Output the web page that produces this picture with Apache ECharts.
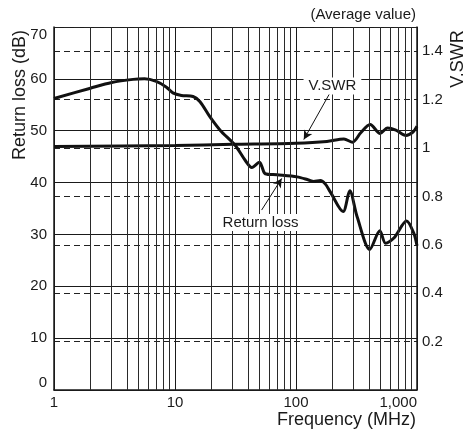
<!DOCTYPE html>
<html><head><meta charset="utf-8">
<script src="https://cdn.jsdelivr.net/npm/echarts@6/dist/echarts.min.js"></script>
<style>html,body{margin:0;padding:0;background:#fff}#c{width:466px;height:434px}</style>
</head><body><div id="c"></div>
<script>
// Return loss (dB) vs frequency (MHz)
const rlFreq = [1, 2, 3, 4.5, 5.6, 7, 8.5, 9.6, 11.3, 14.1, 16.1, 19.4, 23.6, 31.4, 38, 43.2, 49.9, 52.2, 55.7, 69.6, 102, 127, 140, 159, 175, 192, 245, 278, 320, 407, 493, 550, 644, 820, 942, 1000];
const rlDb   = [56.2, 58.2, 59.3, 59.9, 60.0, 59.5, 58.4, 57.3, 56.8, 56.6, 55.6, 52.7, 50.1, 47.2, 44.3, 42.9, 43.9, 43.1, 41.7, 41.5, 41.1, 40.5, 40.2, 40.4, 39.7, 38.2, 34.4, 38.4, 33.4, 27.1, 30.7, 28.3, 29.3, 32.6, 30.2, 27.8];
// V.SWR vs frequency (MHz)
const vswrFreq = [1, 10, 30, 100, 180, 249, 293, 343, 410, 496, 571, 669, 811, 921, 1000];
const vswrVal  = [1.006, 1.010, 1.015, 1.020, 1.027, 1.037, 1.024, 1.063, 1.097, 1.060, 1.083, 1.074, 1.052, 1.065, 1.090];
// minor vertical grid lines (log decades)
const minorFreqs = [2,3,4,5,6,7,8,9,20,30,40,50,60,70,80,90,200,300,400,500,600,700,800,900];
// axis ranges
const xRange = [1, 1000];
const rlRange = [0, 70], rlStep = 10;
const vswrRange = [0, 1.5], vswrStep = 0.2;
// annotations: label position, arrow start and arrow tip in (MHz, dB)
const annVswr = {text: 'V.SWR', at: [200, 58.6], from: [191, 57.3], to: [116, 48.3]};
const annRl   = {text: 'Return loss', at: [50.9, 32.3], from: [52, 34.7], to: [76.2, 40.8]};

const FONT = '"Liberation Sans", Arial, Helvetica, sans-serif';
const INK = '#1a1a1a';

const chart = echarts.init(document.getElementById('c'), null, {renderer: 'canvas'});
chart.setOption({
  animation: false,
  backgroundColor: '#fff',
  grid: {left: 54, right: 49, top: 27, bottom: 44, containLabel: false},
  xAxis: {
    type: 'log', logBase: 10, min: xRange[0], max: xRange[1],
    axisLine: {show: true, lineStyle: {color: INK, width: 1.5}},
    axisTick: {show: false},
    axisLabel: {fontFamily: FONT, fontSize: 15, color: INK, margin: 5, alignMaxLabel: 'right',
      formatter: v => v >= 1000 ? v.toLocaleString('en-US') : String(v)},
    splitLine: {show: true, lineStyle: {color: INK, width: 1}}
  },
  yAxis: [{
    type: 'value', position: 'left', min: rlRange[0], max: rlRange[1], interval: rlStep,
    axisLine: {show: true, lineStyle: {color: INK, width: 1.5}},
    axisTick: {show: false},
    axisLabel: {fontFamily: FONT, fontSize: 15, color: INK, margin: 7,
      verticalAlignMaxLabel: 'top', verticalAlignMinLabel: 'bottom'},
    splitLine: {show: true, lineStyle: {color: INK, width: 1}}
  }, {
    type: 'value', position: 'right', min: vswrRange[0], max: vswrRange[1], interval: vswrStep,
    axisLine: {show: true, lineStyle: {color: INK, width: 1.5}},
    axisTick: {show: false},
    axisLabel: {fontFamily: FONT, fontSize: 15, color: INK, margin: 5,
      formatter: v => (v < 0.05 || v > 1.45) ? '' : (Math.abs(v - 1) < 1e-6 ? '1' : v.toFixed(1))},
    splitLine: {show: true, lineStyle: {color: '#222', width: 1, type: [6, 4]}}
  }],
  series: [{
    name: 'minor', type: 'line', data: [], z: 1, silent: true,
    markLine: {
      silent: true, symbol: ['none', 'none'], animation: false,
      label: {show: false},
      lineStyle: {color: '#2a2a2a', width: 1, type: 'solid'},
      data: minorFreqs.map(f => ({xAxis: f}))
    }
  }, {
    name: 'Return loss', type: 'line', yAxisIndex: 0, z: 3,
    data: rlFreq.map((f, i) => [f, rlDb[i]]),
    smooth: 0.3, showSymbol: false, symbol: 'none',
    lineStyle: {color: '#111', width: 3}
  }, {
    name: 'V.SWR', type: 'line', yAxisIndex: 1, z: 3,
    data: vswrFreq.map((f, i) => [f, vswrVal[i]]),
    smooth: 0.3, showSymbol: false, symbol: 'none',
    lineStyle: {color: '#111', width: 3}
  }, {
    name: 'annotations', type: 'line', yAxisIndex: 0, z: 5, data: [],
    markLine: {
      silent: true, animation: false, symbol: ['none', 'arrow'], symbolSize: [7, 9],
      label: {show: false},
      lineStyle: {color: '#111', width: 1, type: 'solid'},
      data: [
        [{coord: annVswr.from}, {coord: annVswr.to}],
        [{coord: annRl.from}, {coord: annRl.to}]
      ]
    },
    markPoint: {
      silent: true, animation: false, symbol: 'rect', symbolSize: 1,
      itemStyle: {color: 'rgba(0,0,0,0)'},
      label: {show: true, position: 'inside', fontFamily: FONT, fontSize: 15, color: INK,
        backgroundColor: '#fff', padding: [1, 5], formatter: p => p.name},
      data: [
        {name: annVswr.text, coord: annVswr.at},
        {name: annRl.text, coord: annRl.at}
      ]
    }
  }],
  graphic: [
    {type: 'text', x: 20, y: 95, rotation: Math.PI / 2,
      style: {text: 'Return loss (dB)', fontFamily: FONT, fontSize: 18, fill: INK, align: 'center', verticalAlign: 'middle'}},
    {type: 'text', x: 458, y: 59, rotation: Math.PI / 2,
      style: {text: 'V.SWR', fontFamily: FONT, fontSize: 18, fill: INK, align: 'center', verticalAlign: 'middle'}},
    {type: 'text', x: 416, y: 15,
      style: {text: '(Average value)', fontFamily: FONT, fontSize: 15, fill: INK, align: 'right', verticalAlign: 'middle'}},
    {type: 'text', x: 416, y: 420,
      style: {text: 'Frequency (MHz)', fontFamily: FONT, fontSize: 18, fill: INK, align: 'right', verticalAlign: 'middle'}}
  ]
});
</script>
</body></html>
